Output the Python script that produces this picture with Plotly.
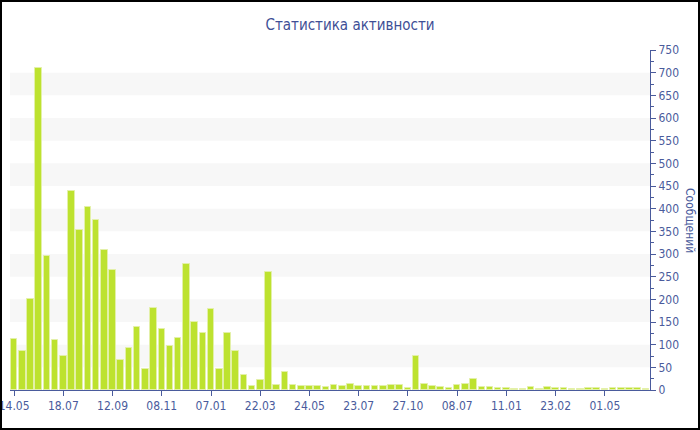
import plotly.graph_objects as go

values = [113, 85, 201, 711, 296, 110, 74, 440, 353, 404,
          375, 308, 264, 67, 93, 138, 46, 180, 135, 98,
          114, 277, 149, 126, 179, 46, 125, 87, 32, 9,
          23, 260, 12, 39, 12, 9, 9, 9, 7, 10,
          8, 13, 9, 8, 8, 8, 11, 10, 4, 76,
          13, 9, 7, 4, 11, 14, 24, 6, 6, 4,
          4, 3, 3, 6, 3, 6, 4, 4, 3, 3,
          4, 4, 3, 4, 4, 4, 4, 3]
tick_labels = ["14.05", "18.07", "12.09", "08.11", "07.01", "22.03", "24.05",
               "23.07", "27.10", "08.07", "11.01", "23.02", "01.05"]
tick_every = 6

x = list(range(len(values)))
tickvals = [i * tick_every for i in range(len(tick_labels))]

axis_blue = "#4a5b9c"
text_blue = "#4a5b9c"
FONT = "DejaVu Sans Condensed, DejaVu Sans, sans-serif"

fig = go.Figure()
fig.add_trace(go.Bar(
    x=x, y=values, width=0.8,
    marker=dict(color="#bde22f", line=dict(color="#e3f0a8", width=1)),
    hoverinfo="y",
))

shapes = []
for lo in range(50, 700, 100):
    shapes.append(dict(type="rect", xref="paper", yref="y", x0=0, x1=1, y0=lo, y1=lo + 50,
                       fillcolor="#f7f7f7", line=dict(width=0), layer="below"))

W, H = 700, 430
ml, mr, mt, mb = 10, 50, 50, 40
pw, ph = W - ml - mr, H - mt - mb
shapes.append(dict(type="rect", xref="paper", yref="paper",
                   x0=(1 - ml) / pw, x1=(W - 1 - ml) / pw,
                   y0=-(mb - 1) / ph, y1=1 + (mt - 1) / ph,
                   line=dict(color="#000000", width=2), fillcolor="rgba(0,0,0,0)"))

fig.update_layout(
    width=W, height=H,
    margin=dict(l=ml, r=mr, t=mt, b=mb, autoexpand=False),
    paper_bgcolor="white", plot_bgcolor="white",
    font=dict(family=FONT, color=text_blue, size=12),
    title=dict(text="Статистика активности", x=0.5, xref="container", y=1 - 25 / H, yanchor="middle",
               font=dict(size=15, color="#3e4f96", family=FONT)),
    showlegend=False,
    bargap=0,
    shapes=shapes,
    xaxis=dict(
        range=[-0.5, len(values) - 0.5], automargin=False,
        tickmode="array", tickvals=tickvals, ticktext=tick_labels,
        ticklabeloverflow="allow",
        showline=True, linecolor=axis_blue, linewidth=1,
        ticks="outside", ticklen=5, tickcolor=axis_blue,
        showgrid=False, zeroline=False,
        tickfont=dict(size=12, color=text_blue, family=FONT),
    ),
    yaxis=dict(
        side="right", range=[0, 750], dtick=50, tick0=0, automargin=False,
        showline=True, linecolor=axis_blue, linewidth=1,
        ticks="outside", ticklen=5, tickcolor=axis_blue,
        minor=dict(dtick=25, ticks="outside", ticklen=3, tickcolor=axis_blue, showgrid=False),
        showgrid=False, zeroline=False,
        tickfont=dict(size=12, color=text_blue, family=FONT),
    ),
    annotations=[dict(text="Сообщений", xref="paper", yref="paper",
                      x=1 + 40 / pw, y=0.5, textangle=90, showarrow=False,
                      xanchor="center", yanchor="middle",
                      font=dict(size=12, color=text_blue, family=FONT))],
)

fig.write_html("out.html", config={"displayModeBar": False},
               post_script="document.body.style.margin='0';document.body.style.overflow='hidden';")
